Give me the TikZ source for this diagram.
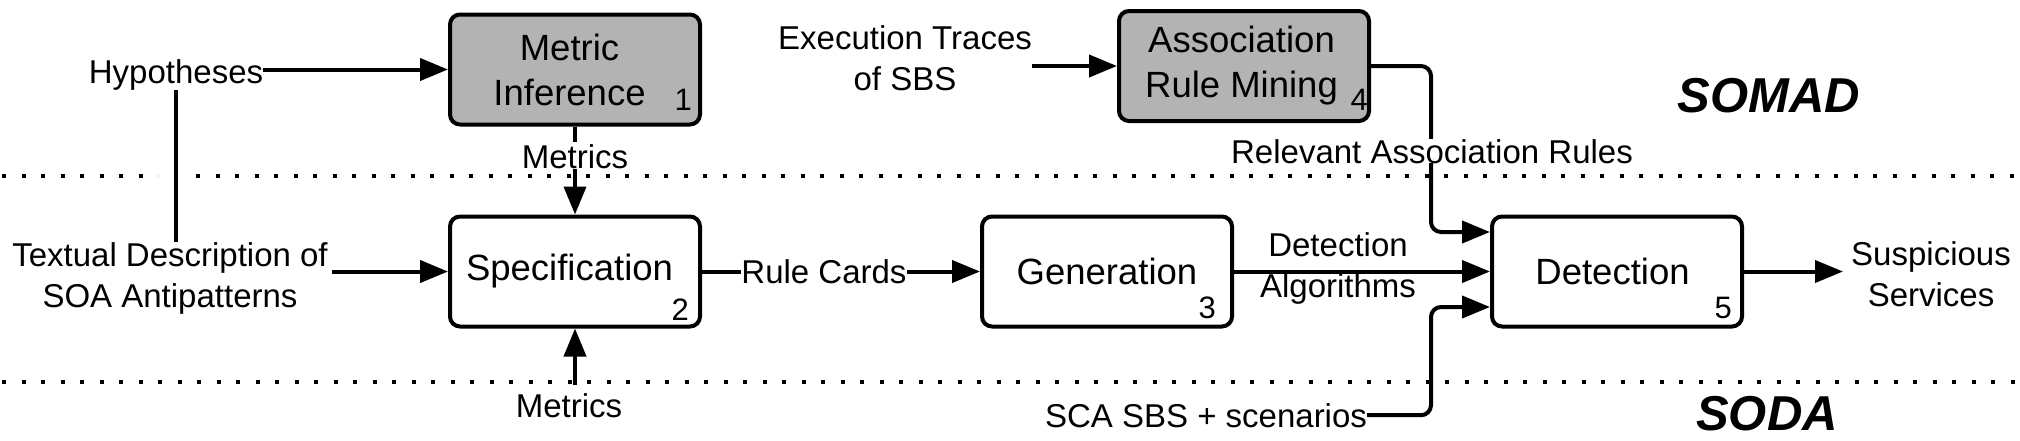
\documentclass[tikz,border=0pt]{standalone}
\usepackage{fontspec}
\setmainfont{Liberation Sans}
\usetikzlibrary{arrows.meta,calc}
\definecolor{boxgray}{RGB}{179,179,179}
\newcommand{\padr}{\hspace*{11pt}}
\begin{document}
\begin{tikzpicture}[x=1pt,y=-1pt,
  lbl/.style={font=\fontsize{33}{41}\selectfont, inner sep=0pt, align=center},
  proc/.style={draw, line width=4pt, rounded corners=10pt, minimum width=250pt, minimum height=110pt, font=\fontsize{36.5}{45}\selectfont, align=center, inner sep=0pt},
  num/.style={font=\fontsize{31}{36}\selectfont, inner sep=0pt, anchor=base east},
  conn/.style={line width=4pt},
  arr/.style={conn, -{Triangle[length=28pt,width=22pt]}},
  sepline/.style={line width=4pt, dash pattern=on 4pt off 15.5pt},
  title/.style={font=\fontsize{49}{55}\selectfont\bfseries\itshape, inner sep=0pt}
]
\useasboundingbox (0,0) rectangle (2020,440);
% separators
\draw[sepline] (2,176) -- (158,176);
\draw[sepline] (196,176) -- (2020,176);
\draw[sepline] (2,382) -- (2020,382);

% process boxes
\node[proc, fill=boxgray] (mi) at (575,69.5) {Metric\padr\\Inference\padr};
\node[proc, fill=boxgray] (arm) at (1244,66) {Association\hspace*{5pt}\\Rule Mining\hspace*{5pt}};
\node[proc] (spec) at (575,271.5) {Specification\padr};
\node[proc] (gen) at (1107,271.5) {Generation};
\node[proc] (det) at (1617,271.5) {Detection\hspace*{9pt}};

% numbers
\node[num] (n1) at (692,110) {1};
\node[num] (n4) at (1368,110) {4};
\node[num] (n2) at (689,320) {2};
\node[num] (n3) at (1216,318) {3};
\node[num] (n5) at (1732,318) {5};

% labels
\node[lbl, anchor=base] (hyp) at (176,83) {Hypotheses};
\node[lbl] (txt) at (170,278) {Textual Description of\\SOA Antipatterns};
\node[lbl] (et) at (905,58) {Execution Traces\\of SBS};
\node[lbl, anchor=base] (met1) at (575,168) {Metrics};
\node[lbl, anchor=base] (met2) at (569,417) {Metrics};
\node[lbl, anchor=base] (rc) at (824,283) {Rule Cards};
\node[lbl] (da) at (1338,268.5) {Detection\\Algorithms};
\node[lbl] (sus) at (1931,274) {Suspicious\\Services};
\node[lbl, anchor=base] (sca) at (1206,427) {SCA SBS + scenarios};
\coordinate (bend) at (1431,0);

% titles
\node[title, anchor=base] (somad) at (1769,112) {SOMAD};
\node[title, anchor=base] (soda) at (1767,430) {SODA};

% connectors
\draw[arr] (hyp.east |- mi.west) -- (mi.west);
\draw[conn] (hyp.south) -- (hyp.south |- txt.north);
\draw[arr] ([xshift=4pt]txt.east |- spec.west) -- (spec.west);
\draw[conn] (mi.south) -- ([yshift=2pt]mi.south |- met1.north);
\draw[arr] (mi.south |- met1.south) -- (spec.north);
\draw[arr] ([yshift=8pt]spec.south |- met2.north) -- (spec.south);
\draw[conn] (spec.east) -- (spec.east -| rc.west);
\draw[arr] (rc.east |- gen.west) -- (gen.west);
\draw[arr] (gen.east) -- (det.west);
\draw[arr] (et.east |- arm.west) -- (arm.west);
\draw[arr, rounded corners=10pt] (arm.east) -- (arm.east -| bend) |- ([yshift=39.5pt]det.west);
\draw[arr, rounded corners=10pt] (sca.east) -- (sca.east -| bend) |- ([yshift=-35.5pt]det.west);
\draw[arr] (det.east) -- ([xshift=-8pt]sus.west |- det.east);

\node[lbl, anchor=base, fill=white] (rar) at (1432,163) {Relevant Association Rules};
\end{tikzpicture}
\end{document}
